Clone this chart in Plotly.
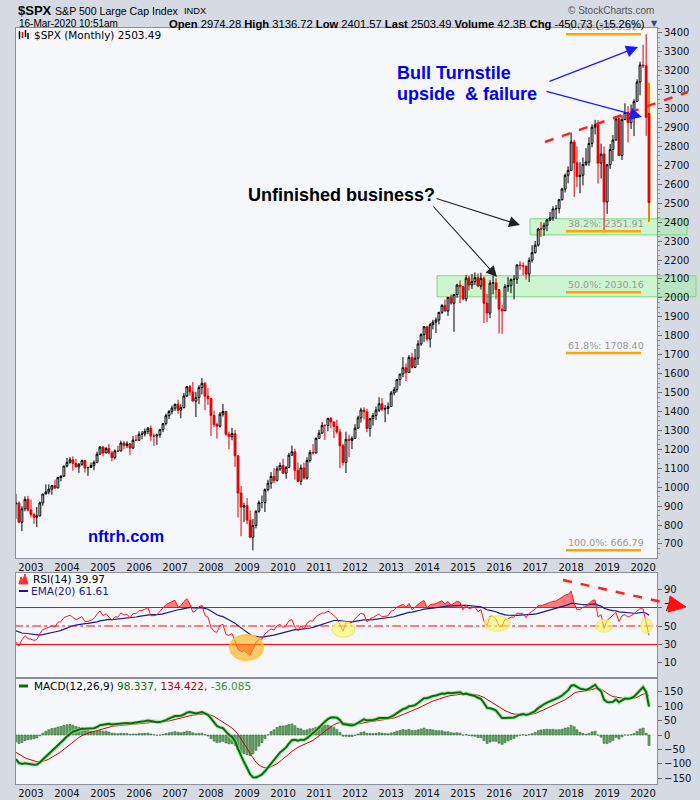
import numpy as np
import pandas as pd
import plotly.graph_objects as go

# ---- monthly S&P 500 bars, Aug 2002 .. Mar 2020 ----
months = pd.date_range("2002-08-01", "2020-03-01", freq="MS")

opens = [
    912, 916, 815, 886, 936,
    880, 856, 841, 848, 917, 964, 975, 990, 1008, 996, 1051, 1058,
    1112, 1131, 1145, 1126, 1107, 1121, 1141, 1102, 1104, 1115, 1130, 1174,
    1212, 1181, 1204, 1181, 1157, 1192, 1191, 1234, 1220, 1229, 1207, 1249,
    1248, 1280, 1281, 1295, 1311, 1270, 1270, 1277, 1304, 1336, 1378, 1401,
    1418, 1438, 1407, 1421, 1482, 1531, 1503, 1455, 1474, 1527, 1549, 1481,
    1468, 1379, 1331, 1323, 1386, 1400, 1280, 1267, 1283, 1166, 969, 896,
    903, 826, 735, 798, 873, 919, 919, 987, 1021, 1057, 1036, 1096,
    1115, 1074, 1104, 1169, 1187, 1089, 1031, 1102, 1049, 1141, 1183, 1181,
    1258, 1286, 1327, 1326, 1364, 1345, 1321, 1292, 1219, 1131, 1253, 1247,
    1258, 1312, 1366, 1408, 1398, 1310, 1362, 1379, 1407, 1441, 1412, 1416,
    1426, 1498, 1515, 1569, 1598, 1631, 1606, 1686, 1633, 1682, 1757, 1806,
    1848, 1783, 1859, 1872, 1884, 1924, 1960, 1931, 2003, 1972, 2018, 2068,
    2059, 1995, 2105, 2068, 2086, 2107, 2063, 2104, 1972, 1920, 2079, 2080,
    2044, 1940, 1932, 2060, 2065, 2097, 2099, 2174, 2171, 2168, 2126, 2199,
    2239, 2279, 2364, 2363, 2384, 2412, 2423, 2470, 2472, 2519, 2575, 2648,
    2674, 2824, 2714, 2641, 2648, 2705, 2718, 2816, 2902, 2914, 2712, 2760,
    2507, 2704, 2784, 2834, 2946, 2752, 2942, 2980, 2926, 2977, 3038, 3141,
    3231, 3226, 2974.28,
]
highs = [
    965, 925, 900, 952, 954,
    935, 864, 895, 924, 965, 1015, 1015, 1011, 1040, 1054, 1063, 1112,
    1155, 1159, 1163, 1150, 1128, 1146, 1141, 1109, 1131, 1142, 1188, 1217,
    1217, 1212, 1229, 1192, 1199, 1219, 1246, 1245, 1243, 1233, 1270, 1276,
    1295, 1297, 1310, 1318, 1326, 1284, 1283, 1307, 1340, 1389, 1407, 1431,
    1441, 1462, 1438, 1498, 1535, 1540, 1556, 1504, 1539, 1576, 1554, 1523,
    1471, 1404, 1340, 1397, 1440, 1404, 1293, 1313, 1303, 1167, 1007, 918,
    943, 877, 832, 878, 930, 956, 993, 1039, 1080, 1101, 1111, 1130,
    1150, 1113, 1181, 1220, 1203, 1131, 1120, 1130, 1158, 1196, 1228, 1263,
    1303, 1344, 1332, 1366, 1371, 1346, 1356, 1308, 1230, 1293, 1278, 1269,
    1333, 1378, 1420, 1422, 1415, 1363, 1392, 1426, 1475, 1471, 1434, 1448,
    1509, 1530, 1570, 1598, 1687, 1654, 1698, 1710, 1730, 1776, 1813, 1849,
    1850, 1867, 1884, 1897, 1925, 1968, 1991, 2005, 2019, 2019, 2075, 2093,
    2064, 2120, 2117, 2126, 2135, 2130, 2133, 2113, 2021, 2094, 2117, 2104,
    2045, 1963, 2073, 2111, 2103, 2120, 2178, 2194, 2188, 2170, 2214, 2278,
    2301, 2371, 2401, 2398, 2418, 2454, 2484, 2491, 2520, 2582, 2657, 2695,
    2873, 2836, 2801, 2718, 2742, 2791, 2849, 2917, 2941, 2940, 2815, 2800,
    2708, 2813, 2860, 2949, 2954, 2965, 3028, 3014, 3022, 3050, 3155, 3248,
    3338, 3393.52, 3136.72,
]
lows = [
    833, 815, 768, 873, 872,
    840, 807, 789, 847, 902, 963, 962, 960, 990, 996, 1031, 1055,
    1105, 1124, 1087, 1107, 1076, 1113, 1078, 1060, 1101, 1090, 1128, 1173,
    1163, 1180, 1176, 1137, 1146, 1188, 1191, 1201, 1206, 1169, 1201, 1246,
    1246, 1253, 1268, 1280, 1245, 1219, 1224, 1261, 1291, 1327, 1360, 1385,
    1403, 1389, 1364, 1416, 1476, 1484, 1452, 1371, 1439, 1490, 1407, 1435,
    1271, 1317, 1257, 1315, 1373, 1272, 1200, 1248, 1107, 840, 741, 815,
    805, 735, 666.79, 783, 866, 888, 869, 978, 992, 1020, 1030, 1086,
    1071, 1045, 1101, 1167, 1040, 1028, 1011, 1040, 1040, 1131, 1173, 1180,
    1257, 1284, 1249, 1295, 1311, 1259, 1282, 1101, 1115, 1075, 1159, 1202,
    1258, 1312, 1341, 1358, 1291, 1267, 1326, 1355, 1397, 1403, 1343, 1385,
    1426, 1485, 1501, 1536, 1581, 1560, 1604, 1627, 1633, 1646, 1747, 1767,
    1770, 1738, 1834, 1815, 1860, 1915, 1930, 1905, 1964, 1821, 2001, 1973,
    1988, 1981, 2040, 2048, 2068, 2057, 2044, 1867, 1872, 1893, 2019, 1993,
    1812, 1810, 1931, 2033, 2025, 1992, 2074, 2148, 2120, 2097, 2084, 2187,
    2234, 2271, 2322, 2328, 2352, 2405, 2407, 2418, 2447, 2515, 2557, 2605,
    2672, 2533, 2586, 2553, 2594, 2698, 2698, 2796, 2864, 2604, 2631, 2347,
    2444, 2682, 2722, 2832, 2750, 2729, 2940, 2822, 2892, 2855, 3037, 3070,
    3215, 2856, 2401.57,
]
closes = [
    916, 815, 886, 936, 880,
    856, 841, 848, 917, 964, 975, 990, 1008, 996, 1051, 1058, 1112,
    1131, 1145, 1126, 1107, 1121, 1141, 1102, 1104, 1115, 1130, 1174, 1212,
    1181, 1204, 1181, 1157, 1192, 1191, 1234, 1220, 1229, 1207, 1249, 1248,
    1280, 1281, 1295, 1311, 1270, 1270, 1277, 1304, 1336, 1378, 1401, 1418,
    1438, 1407, 1421, 1482, 1531, 1503, 1455, 1474, 1527, 1549, 1481, 1468,
    1379, 1331, 1323, 1386, 1400, 1280, 1267, 1283, 1166, 969, 896, 903,
    826, 735, 798, 873, 919, 919, 987, 1021, 1057, 1036, 1096, 1115,
    1074, 1104, 1169, 1187, 1089, 1031, 1102, 1049, 1141, 1183, 1181, 1258,
    1286, 1327, 1326, 1364, 1345, 1321, 1292, 1219, 1131, 1253, 1247, 1258,
    1312, 1366, 1408, 1398, 1310, 1362, 1379, 1407, 1441, 1412, 1416, 1426,
    1498, 1515, 1569, 1598, 1631, 1606, 1686, 1633, 1682, 1757, 1806, 1848,
    1783, 1859, 1872, 1884, 1924, 1960, 1931, 2003, 1972, 2018, 2068, 2059,
    1995, 2105, 2068, 2086, 2107, 2063, 2104, 1972, 1920, 2079, 2080, 2044,
    1940, 1932, 2060, 2065, 2097, 2099, 2174, 2171, 2168, 2126, 2199, 2239,
    2279, 2364, 2363, 2384, 2412, 2423, 2470, 2472, 2519, 2575, 2648, 2674,
    2824, 2714, 2641, 2648, 2705, 2718, 2816, 2902, 2914, 2712, 2760, 2507,
    2704, 2784, 2834, 2946, 2752, 2942, 2980, 2926, 2977, 3038, 3141, 3231,
    3226, 2954.22, 2503.49,
]
# earlier monthly closes (Jan 1998 .. Jul 2002), only used to warm up RSI / MACD
warmup_closes = [
    980, 1049, 1102, 1112, 1091, 1134, 1121, 957, 1017, 1099, 1164, 1229,
    1280, 1238, 1286, 1335, 1302, 1373, 1329, 1320, 1283, 1363, 1389, 1469,
    1394, 1366, 1499, 1452, 1421, 1455, 1431, 1518, 1437, 1429, 1315, 1320,
    1366, 1240, 1160, 1249, 1256, 1224, 1211, 1134, 1041, 1060, 1139, 1148,
    1130, 1107, 1147, 1077, 1067, 990, 912,
]

fib_pcts = ["0.0%", "38.2%", "50.0%", "61.8%", "100.0%"]
fib_levels = [3393.52, 2351.91, 2030.16, 1708.40, 666.79]
zones = [(2333, 2418), (2006, 2117)]
rsi_levels = [70, 50, 30]

# ---- indicators ----
full = pd.Series(warmup_closes + closes, dtype=float)
delta = full.diff()
avg_gain = delta.clip(lower=0).ewm(alpha=1 / 14, adjust=False).mean()
avg_loss = (-delta.clip(upper=0)).ewm(alpha=1 / 14, adjust=False).mean()
rsi_full = 100 - 100 / (1 + avg_gain / avg_loss)
rsi_ema_full = rsi_full.ewm(span=20, adjust=False).mean()
macd_full = full.ewm(span=12, adjust=False).mean() - full.ewm(span=26, adjust=False).mean()
signal_full = macd_full.ewm(span=9, adjust=False).mean()

n = len(closes)
rsi = rsi_full.values[-n:]
rsi_ema = rsi_ema_full.values[-n:]
macd = macd_full.values[-n:]
signal = signal_full.values[-n:]
hist = macd - signal

# ---- pixel helpers (plot area: x 16..657, y 28..784) ----
L, R, T, B = 16, 657, 28, 784
W, H = R - L, B - T


def px(x):
    return (x - L) / W


def py(y):
    return (B - y) / H


BG = "#f5f7fb"
FONT = "DejaVu Sans"
ARIAL = "Liberation Sans"

fig = go.Figure()

fig.add_trace(go.Candlestick(
    x=months, open=opens, high=highs, low=lows, close=closes,
    increasing=dict(line=dict(color="black", width=1), fillcolor=BG),
    decreasing=dict(line=dict(color="#e00000", width=1), fillcolor="#e00000"),
    showlegend=False, hoverinfo="skip", xaxis="x", yaxis="y",
))

# RSI guide lines as traces (70 / 50 / 30)
for lvl, dash in zip(rsi_levels, ["solid", "dashdot", "solid"]):
    fig.add_trace(go.Scatter(x=[months[0] - pd.Timedelta(days=200), months[-1] + pd.Timedelta(days=200)],
                             y=[lvl, lvl], mode="lines", line=dict(color="#ff0000", width=1, dash=dash),
                             showlegend=False, hoverinfo="skip", xaxis="x2", yaxis="y2"))

# RSI areas beyond 70 / 30 as closed polygons
band_x = list(months) + list(months[::-1])
over = list(np.maximum(rsi, 70)) + [70] * n
under = list(np.minimum(rsi, 30)) + [30] * n
for ys in (over, under):
    fig.add_trace(go.Scatter(x=band_x, y=ys, mode="none", fill="toself", fillcolor="rgba(255,40,40,0.6)",
                             showlegend=False, hoverinfo="skip", xaxis="x2", yaxis="y2"))
fig.add_trace(go.Scatter(x=months, y=rsi_ema, mode="lines", line=dict(color="#1a1a8c", width=1.2),
                         showlegend=False, hoverinfo="skip", xaxis="x2", yaxis="y2"))
fig.add_trace(go.Scatter(x=months, y=rsi, mode="lines", line=dict(color="#ff1a1a", width=1),
                         showlegend=False, hoverinfo="skip", xaxis="x2", yaxis="y2"))

# MACD
fig.add_trace(go.Bar(x=months, y=hist, marker=dict(color="#6aa86a", line=dict(color="#2f6b2f", width=0.6)),
                     showlegend=False, hoverinfo="skip", xaxis="x3", yaxis="y3"))
fig.add_trace(go.Scatter(x=months, y=signal, mode="lines", line=dict(color="#d00000", width=1),
                         showlegend=False, hoverinfo="skip", xaxis="x3", yaxis="y3"))
fig.add_trace(go.Scatter(x=months, y=macd, mode="lines", line=dict(color="rgba(150,220,150,0.7)", width=4),
                         showlegend=False, hoverinfo="skip", xaxis="x3", yaxis="y3"))
fig.add_trace(go.Scatter(x=months, y=macd, mode="lines", line=dict(color="#0b6e0b", width=2),
                         showlegend=False, hoverinfo="skip", xaxis="x3", yaxis="y3"))

shapes = []
# green zones
for (lo, hi), (x0, x1) in zip(zones, [(530, 687), (437, 696)]):
    shapes.append(dict(type="rect", xref="paper", yref="y", x0=px(x0), x1=px(x1), y0=lo, y1=hi,
                       fillcolor="rgba(150,240,150,0.4)", line=dict(color="rgba(110,215,110,0.9)", width=1),
                       layer="below"))
# highlight on the last bar
shapes.append(dict(type="rect", xref="x", yref="y",
                   x0=months[-1] - pd.Timedelta(days=14), x1=months[-1] + pd.Timedelta(days=14),
                   y0=lows[-1] - 10, y1=highs[-1] + 4,
                   fillcolor="rgba(255,255,60,0.85)", line=dict(width=0), layer="below"))
# fib lines
annotations = []
for pct, lvl in zip(fib_pcts, fib_levels):
    shapes.append(dict(type="line", xref="paper", yref="y", x0=px(566), x1=px(641), y0=lvl, y1=lvl,
                       line=dict(color="#ffa500", width=2.5)))
    annotations.append(dict(xref="paper", yref="y", x=px(566), y=lvl, yshift=8, xanchor="left",
                            yanchor="middle", showarrow=False, text=f"{pct}: {lvl:.2f}",
                            font=dict(family=FONT, size=9.5, color="#999999")))
# red dashed trend line in price panel
shapes.append(dict(type="line", xref="paper", yref="paper", x0=px(545), y0=py(142), x1=px(688), y1=py(92),
                   line=dict(color="#ff2020", width=2.5, dash="dash")))
# RSI highlights
shapes.append(dict(type="circle", xref="paper", yref="paper", x0=px(230), x1=px(263), y0=py(660), y1=py(635),
                   fillcolor="rgba(255,165,0,0.55)", line=dict(color="rgba(255,200,60,0.9)", width=2)))
for x0, x1, y0, y1 in [(332, 355, 637, 622), (485, 510, 631, 616), (596, 612, 632, 620), (641, 652, 633, 619)]:
    shapes.append(dict(type="circle", xref="paper", yref="paper", x0=px(x0), x1=px(x1), y0=py(y0), y1=py(y1),
                       fillcolor="rgba(255,255,80,0.55)", line=dict(color="rgba(240,235,120,0.9)", width=1.5)))
# red dashed arrow in RSI panel
shapes.append(dict(type="line", xref="paper", yref="paper", x0=px(563), y0=py(580), x1=px(671), y1=py(604),
                   line=dict(color="#ff2020", width=2.5, dash="dash")))
tri = [(670, 596), (686, 607), (668, 612)]
shapes.append(dict(type="path", xref="paper", yref="paper",
                   path="M " + " L ".join(f"{px(a):.5f},{py(b):.5f}" for a, b in tri) + " Z",
                   fillcolor="#ff1010", line=dict(color="#ff1010", width=1)))
# legend icons
shapes.append(dict(type="line", xref="paper", yref="paper", x0=px(19), x1=px(28), y0=py(591), y1=py(591),
                   line=dict(color="#1a1a8c", width=2)))
shapes.append(dict(type="line", xref="paper", yref="paper", x0=px(19), x1=px(28), y0=py(686), y1=py(686),
                   line=dict(color="#0b6e0b", width=3)))
mountain = [(19, 584), (21, 577), (23, 580), (25, 574), (28, 584)]
shapes.append(dict(type="path", xref="paper", yref="paper",
                   path="M " + " L ".join(f"{px(a):.5f},{py(b):.5f}" for a, b in mountain) + " Z",
                   fillcolor="#ff3030", line=dict(color="#ff3030", width=1)))
for xx, y0, y1, col in [(19.5, 31, 39, "black"), (22.5, 32, 38, "#e00000"), (25.5, 30, 37, "black"),
                        (28, 33, 39, "black")]:
    shapes.append(dict(type="line", xref="paper", yref="paper", x0=px(xx), x1=px(xx), y0=py(y0), y1=py(y1),
                       line=dict(color=col, width=1.5)))


def note(x, y, text, size=10.5, color="black", family=FONT, anchor="left"):
    annotations.append(dict(xref="paper", yref="paper", x=px(x), y=py(y), text=text, showarrow=False,
                            xanchor=anchor, yanchor="middle", font=dict(family=family, size=size, color=color)))


def arrow(tail, tip, color, width=1.2, size=2.0):
    annotations.append(dict(xref="paper", yref="paper", x=px(tip[0]), y=py(tip[1]), text="",
                            showarrow=True, ax=tail[0] - tip[0], ay=tail[1] - tip[1],
                            arrowhead=2, arrowsize=size, arrowwidth=width, arrowcolor=color, standoff=0))


# header
note(16, 10, "<b>$SPX</b>", size=13, family=ARIAL)
note(53, 11, "S&P 500 Large Cap Index", size=10.6, family=ARIAL)
note(182, 11, "INDX", size=9.3, family=ARIAL)
note(656, 10, "© StockCharts.com", size=10, color="#555555", family=ARIAL, anchor="right")
note(17, 24, "16-Mar-2020 10:51am", size=10, family=ARIAL)
chg = closes[-1] - closes[-2]
note(647, 24,
     f"<b>Open</b> {opens[-1]:.2f} <b>High</b> {highs[-1]:.2f} <b>Low</b> {lows[-1]:.2f} "
     f"<b>Last</b> {closes[-1]:.2f} <b>Volume</b> 42.3B <b>Chg</b> {chg:.2f} ({chg / closes[-2] * 100:.2f}%)",
     size=11.2, family=ARIAL, anchor="right")
note(649, 24, "▼", size=8, color="#3a4a7a", family=FONT)

# panel legends
note(32, 35, f"$SPX (Monthly) {closes[-1]:.2f}")
note(31, 579, "RSI(14) 39.97")
note(29, 591, "EMA(20) 61.61", color="#1a1a8c")
note(32, 686, "MACD(12,26,9) <span style='color:#0b6e0b'>98.337,</span> "
              "<span style='color:#b00000'>134.422,</span> <span style='color:#3c8c3c'>-36.085</span>")

# commentary
note(395, 73, "<b>Bull Turnstile</b>", size=18, color="#0000ee", family=ARIAL)
note(395, 94, "<b>upside\u00a0 & failure</b>", size=18, color="#0000ee", family=ARIAL)
arrow((548, 82), (638, 47), "#1a1aff")
arrow((545, 91), (642, 117), "#1a1aff")
note(246, 195, "<b>Unfinished business?</b>", size=18, color="black", family=ARIAL)
arrow((435, 198), (520, 225), "#222222", width=1.1)
arrow((432, 205), (497, 277), "#222222", width=1.1)
note(86, 536, "<b>nftrh.com</b>", size=16.5, color="#0000ee", family=ARIAL)

xcommon = dict(type="date", range=["2002-08-02", "2020-05-21"], showgrid=False, zeroline=False,
               showline=True, mirror=True, linecolor="#8a8f99", linewidth=1, automargin=False,
               dtick="M12", tick0="2003-01-01", tickformat="%Y", ticks="",
               tickfont=dict(family=FONT, size=10, color="#111111"), rangeslider=dict(visible=False))
ycommon = dict(side="right", showgrid=False, zeroline=False, showline=True, mirror=True, automargin=False,
               linecolor="#8a8f99", linewidth=1, ticks="outside", ticklen=4, tickcolor="#666666",
               tickfont=dict(family=FONT, size=10, color="#111111"))

fig.update_layout(
    width=700, height=800,
    margin=dict(l=L, r=700 - R, t=T, b=800 - B),
    paper_bgcolor="#d5dae3", plot_bgcolor=BG,
    showlegend=False, bargap=0.25, boxgap=0.05, hovermode=False,
    xaxis=dict(xcommon, anchor="y", domain=[0, 1]),
    xaxis2=dict(xcommon, anchor="y2", matches="x", showticklabels=False),
    xaxis3=dict(xcommon, anchor="y3", matches="x"),
    yaxis=dict(ycommon, domain=[py(558), 1], range=[626, 3426], dtick=100,
               minor=dict(ticks="outside", ticklen=2, dtick=25, tickcolor="#999999")),
    yaxis2=dict(ycommon, domain=[py(677.7), py(573)], range=[-6, 107.4], tickvals=[10, 30, 50, 70, 90]),
    yaxis3=dict(ycommon, domain=[0, py(677.7)], range=[-169.7, 198.5],
                tickvals=[-150, -100, -50, 0, 50, 100, 150]),
    shapes=shapes, annotations=annotations,
)

# the page's default body margin would push the chart 8px off the window origin
fig.write_html("out.html", config={"displayModeBar": False},
               post_script="document.body.style.margin='0px';")
